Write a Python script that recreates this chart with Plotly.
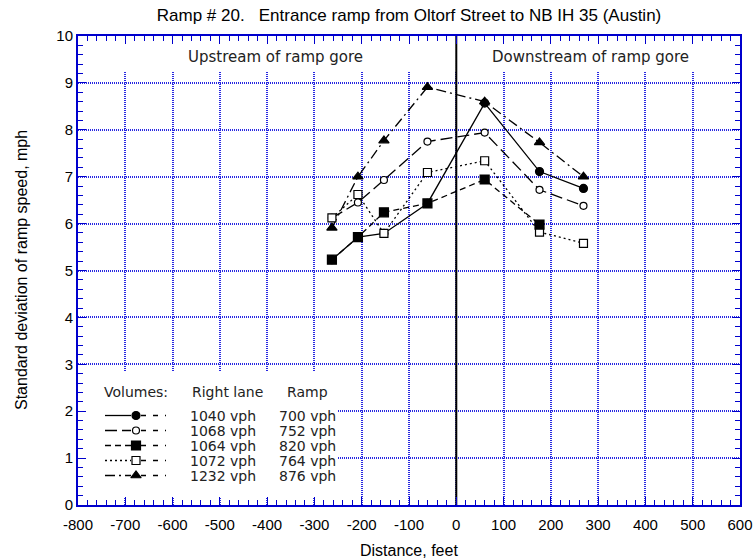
import plotly.graph_objects as go

# Distance from the ramp gore (feet) at each detector station
distance_ft = [-263, -208, -153, -61, 60, 176, 269]

# Standard deviation of ramp speed (mph) per volume condition
sd_1040_700 = [5.23, 5.71, 5.79, 6.43, 8.57, 7.11, 6.75]
sd_1068_752 = [6.12, 6.45, 6.93, 7.75, 7.94, 6.72, 6.38]
sd_1064_820 = [5.23, 5.71, 6.24, 6.43, 6.94, 5.98, None]
sd_1072_764 = [6.12, 6.62, 5.79, 7.09, 7.34, 5.82, 5.58]
sd_1232_876 = [5.91, 7.00, 7.77, 8.91, 8.60, 7.73, 7.00]

right_lane = ["1040 vph", "1068 vph", "1064 vph", "1072 vph", "1232 vph"]
ramp = ["700 vph", "752 vph", "820 vph", "764 vph", "876 vph"]

x_ticks = list(range(-800, 601, 100))
x_tick_text = [str(v) for v in x_ticks]
y_ticks = list(range(0, 11))

BLUE = "rgb(0,0,205)"
GRID = "rgb(40,40,225)"
SANS = "Liberation Sans, Arial, sans-serif"
LABEL_FONT = "DejaVu Sans, Verdana, sans-serif"

# style per series: (values, dash, symbol, fill, size)
series = [
    (sd_1232_876, "10px,4px,2px,4px", "triangle-up", "black", 9),
    (sd_1068_752, "12px,5px", "circle", "white", 7),
    (sd_1040_700, "solid", "circle", "black", 8),
    (sd_1072_764, "2px,3px", "square", "white", 8),
    (sd_1064_820, "6px,4px", "square", "black", 9),
]
legend_order = [2, 1, 4, 3, 0]

fig = go.Figure()

for vals, dash, sym, fill, size in series:
    fig.add_trace(go.Scatter(
        x=distance_ft, y=vals, mode="lines+markers",
        line=dict(color="black", width=1.3, dash=dash),
        marker=dict(symbol=sym, size=size, color=fill,
                    line=dict(color="black", width=1.2)),
        connectgaps=False, showlegend=False, hoverinfo="skip",
    ))

# Key drawn on an overlay axis measured in page pixels
PX_X = [78, 740]
PX_Y = [505, 36]
row_y = [415.5, 430.5, 445.5, 460.5, 475.5]
for i, k in enumerate(legend_order):
    vals, dash, sym, fill, size = series[k]
    y = row_y[i]
    fig.add_trace(go.Scatter(
        x=[105, 131], y=[y, y], mode="lines", xaxis="x2", yaxis="y2",
        line=dict(color="black", width=1.3, dash=dash),
        showlegend=False, hoverinfo="skip"))
    fig.add_trace(go.Scatter(
        x=[141, 166], y=[y, y], mode="lines", xaxis="x2", yaxis="y2",
        line=dict(color="black", width=1.3, dash="5px,7px"),
        showlegend=False, hoverinfo="skip"))
    fig.add_trace(go.Scatter(
        x=[136], y=[y], mode="markers", xaxis="x2", yaxis="y2",
        marker=dict(symbol=sym, size=size, color=fill,
                    line=dict(color="black", width=1.2)),
        showlegend=False, hoverinfo="skip"))

annotations = []


def px_text(text, x, y, anchor="left", size=14, family=LABEL_FONT):
    annotations.append(dict(
        text=text, x=x, y=y, xref="x2", yref="y2", showarrow=False,
        xanchor=anchor, yanchor="middle",
        font=dict(family=family, size=size, color="#222")))


def page_text(text, px, py, size=16, angle=0):
    # place text at a page pixel position, outside the plotting area
    annotations.append(dict(
        text=text, x=(px - PX_X[0]) / (PX_X[1] - PX_X[0]),
        y=(PX_Y[0] - py) / (PX_Y[0] - PX_Y[1]),
        xref="paper", yref="paper", showarrow=False, textangle=angle,
        xanchor="center", yanchor="middle",
        font=dict(family=SANS, size=size, color="black")))


px_text("Volumes:", 102, 392)
px_text("Right lane", 190, 392)
px_text("Ramp", 285, 392)
for i in range(5):
    px_text(right_lane[i], 188, row_y[i])
    px_text(ramp[i], 277, row_y[i])

px_text("Upstream of ramp gore", 275, 57, anchor="center", size=15)
px_text("Downstream of ramp gore", 590, 57, anchor="center", size=15)

# axis titles
page_text("Distance, feet", 409, 550)
page_text("Standard deviation of ramp speed, mph", 21, 270, angle=-90)

shapes = [
    # clear band under the section labels
    dict(type="rect", xref="x", yref="y", x0=-800, x1=600, y0=9.23, y1=10,
         fillcolor="white", line=dict(width=0), layer="between"),
    # clear box behind the key
    dict(type="rect", xref="x", yref="y", x0=-800, x1=-252, y0=0.17, y1=2.85,
         fillcolor="white", line=dict(width=0), layer="between"),
    # ramp gore location
    dict(type="line", xref="x", yref="y", x0=0, x1=0, y0=0, y1=10,
         line=dict(color="black", width=2), layer="between"),
]

axis_common = dict(
    showgrid=True, gridcolor=GRID, gridwidth=2, griddash="1px,1px",
    showline=True, linecolor=BLUE, linewidth=2, mirror="allticks",
    ticks="inside", ticklen=8, tickwidth=1, tickcolor=BLUE,
    zeroline=False, automargin=False,
    tickfont=dict(family=SANS, size=15, color="black"),
)

fig.update_layout(
    width=756, height=560,
    margin=dict(l=78, r=16, t=36, b=55),
    paper_bgcolor="white", plot_bgcolor="white",
    title=dict(text="Ramp # 20.   Entrance ramp from Oltorf Street to NB IH 35 (Austin)",
               x=0.5, xref="paper", y=1 - 15 / 560, yref="container",
               xanchor="center", yanchor="middle",
               font=dict(family=SANS, size=17, color="black")),
    xaxis=dict(range=[-800, 600], tickvals=x_ticks, ticktext=x_tick_text,
               ticklabelstandoff=5,
               minor=dict(dtick=20, tick0=0, ticks="inside", ticklen=5,
                          tickcolor=BLUE, showgrid=False),
               **axis_common),
    yaxis=dict(range=[0, 10], tickvals=y_ticks,
               minor=dict(dtick=0.2, tick0=0, ticks="inside", ticklen=5,
                          tickcolor=BLUE, showgrid=False),
               **axis_common),
    xaxis2=dict(overlaying="x", anchor="y2", range=PX_X, visible=False,
                fixedrange=True),
    yaxis2=dict(overlaying="y", anchor="x2", range=PX_Y, visible=False,
                fixedrange=True),
    shapes=shapes,
    annotations=annotations,
)

fig.write_html("out.html")
